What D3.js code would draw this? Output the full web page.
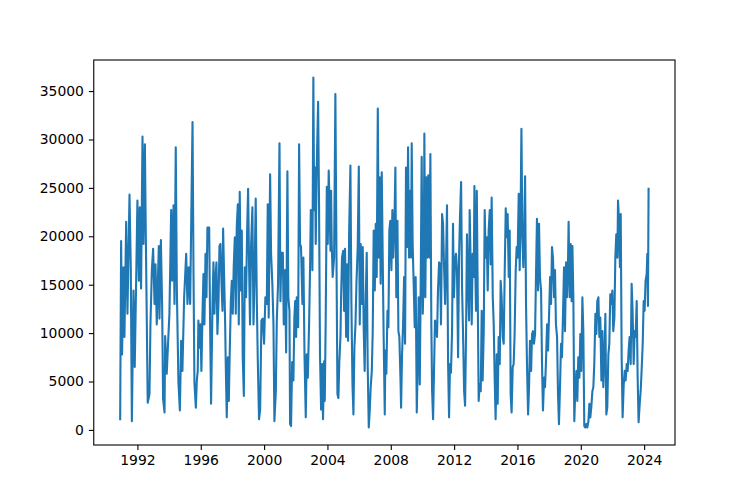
<!DOCTYPE html>
<html>
<head>
<meta charset="utf-8">
<script src="https://cdn.jsdelivr.net/npm/d3@7"></script>
<style>
  body { margin: 0; background: #fff; }
  svg text { font-family: "DejaVu Sans", sans-serif; font-size: 13.9px; fill: #000; }
</style>
</head>
<body>
<div id="chart"></div>
<script>
// [decimal year, value], split by period
let flow_1991_1996 = [
  [1990.91,1100],[1990.97,19500],[1991.03,7800],[1991.12,16800],[1991.18,9600],[1991.29,21500],[1991.37,12000],
  [1991.50,24300],[1991.58,16800],[1991.65,900],[1991.75,14400],[1991.83,6500],[1991.92,15400],[1992.00,23700],
  [1992.09,15400],[1992.15,23000],[1992.23,14600],[1992.32,30300],[1992.38,19200],[1992.47,29500],[1992.53,19900],
  [1992.65,2800],[1992.76,3700],[1992.82,10800],[1992.91,16500],[1992.99,18700],[1993.08,13000],[1993.14,17100],
  [1993.22,10900],[1993.35,19000],[1993.39,11500],[1993.48,19600],[1993.56,12700],[1993.62,3200],[1993.71,1800],
  [1993.75,9700],[1993.85,5800],[1993.96,9900],[1994.02,12000],[1994.13,22700],[1994.19,15400],[1994.28,23200],
  [1994.34,13000],[1994.42,29200],[1994.49,14400],[1994.59,4900],[1994.68,2000],[1994.76,9200],[1994.84,6100],
  [1994.95,13700],[1995.08,18200],[1995.16,13000],[1995.24,16800],[1995.33,13000],[1995.48,31800],[1995.54,16500],
  [1995.60,4900],[1995.69,2300],[1995.75,5100],[1995.81,6100],[1995.85,11300],[1995.92,8500],[1995.98,10900],
  [1996.04,6100],[1996.11,12000],[1996.17,16100],[1996.23,10900]
];
let flow_1996_2001 = [
  [1996.30,18200],[1996.36,13700],[1996.42,20900],[1996.53,20900],[1996.59,10900],[1996.65,2700],[1996.74,13000],
  [1996.80,17300],[1996.86,12000],[1996.93,15800],[1996.99,17300],[1997.05,9900],[1997.12,13400],[1997.18,19000],
  [1997.24,19200],[1997.31,15100],[1997.37,12300],[1997.41,20800],[1997.47,16100],[1997.54,10900],[1997.58,6500],
  [1997.64,1300],[1997.71,7500],[1997.77,3000],[1997.83,8200],[1997.90,13400],[1997.96,15400],[1998.02,12000],
  [1998.08,16800],[1998.15,19900],[1998.21,12000],[1998.27,20900],[1998.34,23300],[1998.40,10900],[1998.46,24600],
  [1998.53,14400],[1998.59,20600],[1998.65,7500],[1998.72,3500],[1998.78,16800],[1998.86,13700],[1998.93,20700],
  [1998.99,24900],[1999.05,17100],[1999.11,10900],[1999.18,19200],[1999.26,23000],[1999.33,10900],[1999.39,15100],
  [1999.47,23900],[1999.54,13300],[1999.60,7300],[1999.68,1100],[1999.75,2100],[1999.83,11300],[1999.91,11500],
  [2000.00,8900],[2000.08,13700],[2000.17,13000],[2000.23,23300],[2000.29,11600],[2000.38,26400],[2000.44,18200],
  [2000.52,15100],[2000.59,10900],[2000.65,900],[2000.74,4000],[2000.80,11300],[2000.88,15100],[2000.97,29600],
  [2001.03,13300],[2001.09,18300],[2001.18,18300],[2001.24,10900],[2001.32,16500],[2001.39,8000],[2001.47,26700],
  [2001.53,13700],[2001.60,12300],[2001.64,600],[2001.70,400],[2001.77,7000],[2001.85,5100],[2001.91,11600]
];
let flow_2002_2007 = [
  [2001.96,13300],[2002.02,9600],[2002.06,13700],[2002.15,10600],[2002.21,29500],[2002.27,19200],[2002.33,18900],
  [2002.42,13000],[2002.48,17800],[2002.55,7800],[2002.63,1300],[2002.69,7800],[2002.76,5400],[2002.84,10900],
  [2002.90,16500],[2002.95,22700],[2003.01,22300],[2003.05,16500],[2003.11,36400],[2003.16,22700],[2003.22,27100],
  [2003.26,19200],[2003.32,26800],[2003.41,33900],[2003.47,23300],[2003.53,7800],[2003.60,2100],[2003.66,6800],
  [2003.72,1100],[2003.79,7100],[2003.83,3000],[2003.89,11300],[2003.96,25100],[2004.02,19200],[2004.08,26800],
  [2004.14,22700],[2004.19,18500],[2004.23,24700],[2004.27,19200],[2004.33,15800],[2004.42,17800],[2004.50,34700],
  [2004.57,17800],[2004.63,3700],[2004.69,3300],[2004.75,7100],[2004.82,9600],[2004.86,13700],[2004.92,17800],
  [2004.99,18500],[2005.05,12300],[2005.11,18700],[2005.18,9600],[2005.24,17100],[2005.30,9200],[2005.37,20600],
  [2005.45,27300],[2005.51,13300],[2005.58,4700],[2005.64,1600],[2005.70,8500],[2005.77,10900],[2005.83,15100],
  [2005.91,18900],[2005.98,27200],[2006.04,10900],[2006.10,19200],[2006.16,13000],[2006.23,18900],[2006.29,10400],
  [2006.35,6100],[2006.42,13700],[2006.48,18300],[2006.54,6800],[2006.61,250],[2006.67,2000],[2006.73,4400],
  [2006.80,6100],[2006.86,10200],[2006.92,20600],[2006.99,14400],[2007.05,21300],[2007.11,15800],[2007.18,33200],
  [2007.24,17800],[2007.30,26100],[2007.36,15100],[2007.43,26600],[2007.49,17800],[2007.55,9600],[2007.62,1600]
];
let flow_2007_2013 = [
  [2007.66,8200],[2007.72,5800],[2007.79,12300],[2007.85,10600],[2007.91,20600],[2007.97,21600],[2008.04,16500],
  [2008.10,22700],[2008.16,17800],[2008.23,21300],[2008.29,27100],[2008.35,13700],[2008.42,21600],[2008.48,10200],
  [2008.54,9600],[2008.61,5400],[2008.65,2300],[2008.71,7800],[2008.77,10600],[2008.84,15800],[2008.90,8900],
  [2008.96,27100],[2009.03,18900],[2009.09,29200],[2009.15,17800],[2009.22,24700],[2009.28,17800],[2009.32,29600],
  [2009.38,19200],[2009.45,14700],[2009.51,10600],[2009.57,15800],[2009.64,1800],[2009.70,6800],[2009.76,13700],
  [2009.83,4700],[2009.89,15400],[2009.95,28200],[2010.02,12000],[2010.08,16500],[2010.12,30600],[2010.18,13700],
  [2010.25,26100],[2010.31,17800],[2010.37,26300],[2010.44,17800],[2010.50,28500],[2010.56,10900],[2010.61,4000],
  [2010.67,1100],[2010.73,6100],[2010.79,11300],[2010.86,10900],[2010.92,9600],[2010.98,14400],[2011.05,17300],
  [2011.11,17100],[2011.17,10900],[2011.24,22300],[2011.30,21300],[2011.36,17100],[2011.43,13000],[2011.49,17100],
  [2011.55,23200],[2011.62,6800],[2011.68,1300],[2011.74,6800],[2011.80,5900],[2011.87,10200],[2011.93,21300],
  [2011.99,13700],[2012.06,17500],[2012.12,18200],[2012.18,16500],[2012.25,7500],[2012.31,17800],[2012.37,22000],
  [2012.44,25600],[2012.50,14700],[2012.56,10200],[2012.63,4000],[2012.69,2500],[2012.75,9600],[2012.81,20200],
  [2012.88,14700],[2012.94,11300],[2012.98,22700],[2013.05,16500],[2013.11,10900],[2013.17,18200],[2013.24,15800],
  [2013.28,25200]
];
let flow_2013_2018 = [
  [2013.32,18500],[2013.38,12300],[2013.43,24700],[2013.49,13700],[2013.55,3000],[2013.61,4700],[2013.68,4000],
  [2013.74,12300],[2013.80,5100],[2013.87,10200],[2013.93,22700],[2013.99,17800],[2014.06,19900],[2014.12,14400],
  [2014.18,20600],[2014.25,22700],[2014.31,17100],[2014.37,24000],[2014.44,13700],[2014.50,10900],[2014.56,5400],
  [2014.62,1100],[2014.69,7800],[2014.75,2700],[2014.81,9600],[2014.88,6800],[2014.94,15400],[2015.00,13700],
  [2015.07,9600],[2015.13,8900],[2015.19,15800],[2015.26,22900],[2015.32,19900],[2015.38,22300],[2015.45,15800],
  [2015.51,20600],[2015.57,3700],[2015.63,1800],[2015.70,6500],[2015.76,6800],[2015.82,9900],[2015.89,16500],
  [2015.95,18900],[2016.01,17800],[2016.08,24400],[2016.14,16500],[2016.20,22700],[2016.25,31100],[2016.31,19900],
  [2016.37,16800],[2016.43,20600],[2016.48,26200],[2016.54,13000],[2016.60,6800],[2016.67,1600],[2016.73,4400],
  [2016.79,9200],[2016.86,6100],[2016.92,9900],[2016.98,10200],[2017.04,8900],[2017.11,9900],[2017.17,16100],
  [2017.23,21800],[2017.30,14400],[2017.36,21300],[2017.42,15800],[2017.49,14400],[2017.55,6800],[2017.61,2000],
  [2017.68,5400],[2017.74,4400],[2017.80,7100],[2017.87,10900],[2017.93,8200],[2017.99,11600],[2018.06,15800],
  [2018.12,13000],[2018.18,18900],[2018.24,17800],[2018.31,13700],[2018.37,16500],[2018.43,10900],[2018.50,9600],
  [2018.56,3700],[2018.62,600],[2018.69,4700],[2018.75,8900],[2018.81,7500],[2018.88,12300],[2018.94,16800]
];
let flow_2019_2024 = [
  [2019.00,10200],[2019.07,17300],[2019.13,13700],[2019.19,17100],[2019.23,21500],[2019.30,13700],[2019.36,19200],
  [2019.42,13300],[2019.47,19000],[2019.53,13700],[2019.59,900],[2019.65,4000],[2019.72,6100],[2019.78,3000],
  [2019.84,7500],[2019.91,5400],[2019.97,9900],[2020.03,6100],[2020.10,13700],[2020.16,10200],[2020.22,400],
  [2020.29,250],[2020.35,600],[2020.41,250],[2020.48,900],[2020.54,2700],[2020.60,1300],[2020.66,2300],
  [2020.73,4000],[2020.79,4400],[2020.85,6800],[2020.92,12000],[2020.98,9900],[2021.04,13300],[2021.11,13700],
  [2021.17,9600],[2021.23,11600],[2021.30,5100],[2021.36,10200],[2021.42,4400],[2021.49,7500],[2021.55,12000],
  [2021.61,1600],[2021.67,2300],[2021.74,7800],[2021.80,8900],[2021.86,14000],[2021.93,13000],[2021.99,14400],
  [2022.05,10200],[2022.12,11600],[2022.18,17800],[2022.24,20200],[2022.31,17800],[2022.35,23700],[2022.41,21600],
  [2022.47,16800],[2022.52,22300],[2022.58,7500],[2022.64,1300],[2022.71,4700],[2022.77,6100],[2022.83,5100],
  [2022.90,6800],[2022.96,6100],[2023.02,8200],[2023.08,9600],[2023.15,6800],[2023.21,15100],[2023.27,12300],
  [2023.34,6800],[2023.40,10200],[2023.46,9600],[2023.53,13300],[2023.59,5400],[2023.65,800],[2023.72,2700],
  [2023.78,4000],[2023.84,6100],[2023.91,8900],[2023.97,13300],[2024.03,12300],[2024.09,15400],[2024.16,16100],
  [2024.20,18200],[2024.24,12800],[2024.28,24900]
];

let x_tick_years = [1992, 1996, 2000, 2004, 2008, 2012, 2016, 2020, 2024];
let y_tick_values = [0, 5000, 10000, 15000, 20000, 25000, 30000, 35000];

let width = 750, height = 500;
let margin = {left: 93.75, right: 75, top: 60, bottom: 55};

function yearToDate(yr){
    let y = Math.floor(yr);
    let start = Date.UTC(y, 0, 1);
    let end = Date.UTC(y + 1, 0, 1);
    return new Date(start + (yr - y) * (end - start));
}

let data = [].concat(flow_1991_1996, flow_1996_2001, flow_2002_2007,
                     flow_2007_2013, flow_2013_2018, flow_2019_2024)
    .map(function(d){ return {date: yearToDate(d[0]), value: d[1]}; });

let svg = d3.select('#chart').append('svg')
    .attr('width', width)
    .attr('height', height);

// matplotlib style 5% padding on both axes
let xExt = d3.extent(data, d => d.date.getTime());
let xPad = (xExt[1] - xExt[0]) * 0.05;
let x = d3.scaleUtc()
    .domain([new Date(xExt[0] - xPad), new Date(xExt[1] + xPad)])
    .range([margin.left, width - margin.right]);

let yExt = d3.extent(data, d => d.value);
let yPad = (yExt[1] - yExt[0]) * 0.05;
let y = d3.scaleLinear()
    .domain([yExt[0] - yPad, yExt[1] + yPad])
    .range([height - margin.bottom, margin.top]);

let line = d3.line()
    .x(d => x(d.date))
    .y(d => y(d.value));

svg.append('path')
    .datum(data)
    .attr('d', line)
    .attr('fill', 'none')
    .attr('stroke', '#1f77b4')
    .attr('stroke-width', 2.1)
    .attr('stroke-linejoin', 'round')
    .attr('stroke-linecap', 'square');

let xAxis = d3.axisBottom(x)
    .tickValues(x_tick_years.map(yr => new Date(Date.UTC(yr, 0, 1))))
    .tickFormat(d3.utcFormat('%Y'))
    .tickSizeInner(4.9)
    .tickSizeOuter(0)
    .tickPadding(4.9);

let yAxis = d3.axisLeft(y)
    .tickValues(y_tick_values)
    .tickFormat(d3.format('d'))
    .tickSizeInner(4.9)
    .tickSizeOuter(0)
    .tickPadding(4.9);

let gx = svg.append('g')
    .attr('transform', 'translate(0,' + (height - margin.bottom) + ')')
    .call(xAxis);
let gy = svg.append('g')
    .attr('transform', 'translate(' + margin.left + ',0)')
    .call(yAxis);

[gx, gy].forEach(function(g){
    g.select('.domain').remove();
    g.selectAll('.tick line').attr('stroke', '#000').attr('stroke-width', 1.1);
    g.selectAll('.tick text').attr('font-family', null).attr('font-size', null);
});

// frame
svg.append('rect')
    .attr('x', margin.left)
    .attr('y', margin.top)
    .attr('width', width - margin.left - margin.right)
    .attr('height', height - margin.top - margin.bottom)
    .attr('fill', 'none')
    .attr('stroke', '#000')
    .attr('stroke-width', 1.1);
</script>
</body>
</html>
